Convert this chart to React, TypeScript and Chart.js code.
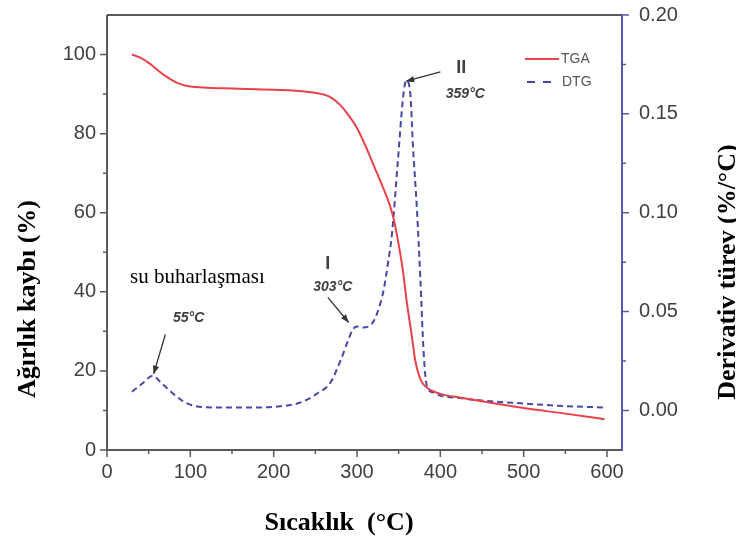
import React, { useEffect, useRef } from "react";
import { Chart, registerables } from "chart.js";

Chart.register(...registerables);

// ---- data ----
const tgaTemp = [30, 40, 50, 60, 70, 80, 90, 100, 120, 150, 200, 240, 260, 270, 280, 290, 300, 310, 320, 330, 340, 345, 350, 355, 360, 365, 370, 375, 380, 390, 400, 425, 450, 500, 550, 597];
const tgaMass = [100, 99.2, 97.9, 96.2, 94.6, 93.3, 92.4, 91.9, 91.6, 91.4, 91.1, 90.6, 89.9, 89.0, 87.2, 84.6, 81.4, 77, 72, 67, 61.5, 57.5, 52, 45.5, 37, 30, 22.5, 18.5, 16.5, 15, 14.2, 13.2, 12.3, 10.6, 9.2, 7.8];

const dtgTemp = [30, 42, 55, 65, 78, 90, 103, 130, 170, 205, 232, 252, 268, 280, 289, 295, 300, 307, 316, 324, 332, 337, 342, 349, 355, 359, 364, 367, 372, 376, 380, 384, 392, 400, 425, 450, 500, 550, 597];
const dtgDeriv = [0.0095, 0.0135, 0.0175, 0.014, 0.009, 0.005, 0.0025, 0.0015, 0.0015, 0.002, 0.004, 0.0085, 0.014, 0.025, 0.035, 0.041, 0.0425, 0.042, 0.043, 0.049, 0.061, 0.074, 0.0895, 0.126, 0.157, 0.167, 0.16, 0.135, 0.101, 0.067, 0.029, 0.012, 0.009, 0.0075, 0.0062, 0.005, 0.0035, 0.0022, 0.0015];

const xTickValues = [0, 100, 200, 300, 400, 500, 600];
const xMinorTicks = [50, 150, 250, 350, 450, 550];
const leftTickValues = [0, 20, 40, 60, 80, 100];
const leftMinorTicks = [10, 30, 50, 70, 90];
const rightTickValues = [0, 0.05, 0.1, 0.15, 0.2];
const rightMinorTicks = [0.025, 0.075, 0.125, 0.175];

const seriesNames = ["TGA", "DTG"];
const xTitle = "Sıcaklık  (°C)";
const leftTitle = "Ağırlık kaybı (%)";
const rightTitle = "Derivativ türev (%/°C)";
const noteWater = "su buharlaşması";
const peakLabels = ["55°C", "303°C", "359°C"];
const stageLabels = ["I", "II"];

// ---- styles ----
const RED = "rgb(232,66,74)";
const BLUE = "rgb(72,72,165)";
const AXIS_BLUE = "rgb(88,88,178)";
const FRAME = "#5a5a5a";
const TEXT = "#404040";
const SANS = "'Liberation Sans', Arial, sans-serif";
const SERIF = "'Liberation Serif', 'Times New Roman', serif";

function drawArrow(ctx: CanvasRenderingContext2D, x1: number, y1: number, x2: number, y2: number) {
  ctx.beginPath();
  ctx.moveTo(x1, y1);
  ctx.lineTo(x2, y2);
  ctx.stroke();
  const a = Math.atan2(y2 - y1, x2 - x1);
  const L = 8, W = 3.2;
  ctx.beginPath();
  ctx.moveTo(x2, y2);
  ctx.lineTo(x2 - L * Math.cos(a) + W * Math.sin(a), y2 - L * Math.sin(a) - W * Math.cos(a));
  ctx.lineTo(x2 - L * Math.cos(a) - W * Math.sin(a), y2 - L * Math.sin(a) + W * Math.cos(a));
  ctx.closePath();
  ctx.fill();
}

const decorPlugin = {
  id: "decor",
  afterDraw(chart: any) {
    const ctx: CanvasRenderingContext2D = chart.ctx;
    const { left, right, top, bottom } = chart.chartArea;
    const xs = chart.scales.x;
    const yl = chart.scales.y;
    const yr = chart.scales.y1;
    ctx.save();

    // frame
    ctx.lineWidth = 2;
    ctx.strokeStyle = FRAME;
    ctx.beginPath();
    ctx.moveTo(left, top);
    ctx.lineTo(right, top);
    ctx.moveTo(left, top);
    ctx.lineTo(left, bottom);
    ctx.lineTo(right, bottom);
    ctx.stroke();
    ctx.strokeStyle = AXIS_BLUE;
    ctx.beginPath();
    ctx.moveTo(right, top - 1);
    ctx.lineTo(right, bottom + 1);
    ctx.stroke();

    // tick marks
    ctx.lineWidth = 1.5;
    ctx.strokeStyle = FRAME;
    ctx.beginPath();
    xTickValues.forEach((v) => { const p = xs.getPixelForValue(v); ctx.moveTo(p, bottom); ctx.lineTo(p, bottom + 7); });
    xMinorTicks.forEach((v) => { const p = xs.getPixelForValue(v); ctx.moveTo(p, bottom); ctx.lineTo(p, bottom + 4); });
    leftTickValues.forEach((v) => { const p = yl.getPixelForValue(v); ctx.moveTo(left, p); ctx.lineTo(left - 7, p); });
    leftMinorTicks.forEach((v) => { const p = yl.getPixelForValue(v); ctx.moveTo(left, p); ctx.lineTo(left - 4, p); });
    ctx.stroke();
    ctx.strokeStyle = AXIS_BLUE;
    ctx.beginPath();
    rightTickValues.forEach((v) => { const p = yr.getPixelForValue(v); ctx.moveTo(right, p); ctx.lineTo(right + 7, p); });
    rightMinorTicks.forEach((v) => { const p = yr.getPixelForValue(v); ctx.moveTo(right, p); ctx.lineTo(right + 4, p); });
    ctx.stroke();

    // axis titles
    ctx.fillStyle = "#000";
    ctx.font = `bold 26px ${SERIF}`;
    ctx.textAlign = "center";
    ctx.textBaseline = "alphabetic";
    ctx.fillText(xTitle, 339, 530);
    ctx.save();
    ctx.translate(35, 299);
    ctx.rotate(-Math.PI / 2);
    ctx.fillText(leftTitle, 0, 0);
    ctx.restore();
    ctx.save();
    ctx.translate(735, 272);
    ctx.rotate(-Math.PI / 2);
    ctx.fillText(rightTitle, 0, 0);
    ctx.restore();

    // legend
    ctx.lineWidth = 2;
    ctx.strokeStyle = RED;
    ctx.beginPath();
    ctx.moveTo(right - 97, top + 44);
    ctx.lineTo(right - 63, top + 44);
    ctx.stroke();
    ctx.strokeStyle = BLUE;
    ctx.setLineDash([8, 8]);
    ctx.beginPath();
    ctx.moveTo(right - 95, top + 67);
    ctx.lineTo(right - 70, top + 67);
    ctx.stroke();
    ctx.setLineDash([]);
    ctx.fillStyle = "#555";
    ctx.font = `14px ${SANS}`;
    ctx.textAlign = "left";
    ctx.textBaseline = "middle";
    ctx.fillText(seriesNames[0], right - 61, top + 44);
    ctx.fillText(seriesNames[1], right - 60, top + 67);

    // annotations (positioned in data coordinates of x / left y)
    const px = (t: number) => xs.getPixelForValue(t);
    const py = (w: number) => yl.getPixelForValue(w);
    const pr = (d: number) => yr.getPixelForValue(d);

    ctx.fillStyle = "#000";
    ctx.font = `21px ${SERIF}`;
    ctx.textAlign = "left";
    ctx.textBaseline = "alphabetic";
    ctx.fillText(noteWater, px(27.6), py(42.2));

    ctx.fillStyle = TEXT;
    ctx.font = `italic bold 14px ${SANS}`;
    ctx.textAlign = "center";
    ctx.textBaseline = "middle";
    ctx.fillText(peakLabels[0], px(98), py(33.4));
    ctx.fillText(peakLabels[1], px(271), py(41.2));
    ctx.fillText(peakLabels[2], px(430), py(90));
    ctx.font = `bold 18px ${SANS}`;
    ctx.fillText(stageLabels[0], px(265), py(47));
    ctx.fillText(stageLabels[1], px(425), py(96.6));

    ctx.strokeStyle = "#333";
    ctx.fillStyle = "#333";
    ctx.lineWidth = 1.3;
    drawArrow(ctx, px(70), py(29.2), px(56), pr(0.0185));
    drawArrow(ctx, px(265), py(38.6), px(290), pr(0.0445));
    drawArrow(ctx, px(400), py(95.6), px(359), pr(0.1665));

    ctx.restore();
  },
};

const noPadV = (s: any) => { s.paddingTop = 0; s.paddingBottom = 0; };

export default function App() {
  const ref = useRef<HTMLCanvasElement | null>(null);
  useEffect(() => {
    if (!ref.current) return;
    const chart = new Chart(ref.current, {
      type: "line",
      data: {
        datasets: [
          {
            label: seriesNames[0],
            data: tgaTemp.map((t, i) => ({ x: t, y: tgaMass[i] })),
            yAxisID: "y",
            borderColor: RED,
            borderWidth: 2,
            pointRadius: 0,
            fill: false,
            cubicInterpolationMode: "monotone",
          },
          {
            label: seriesNames[1],
            data: dtgTemp.map((t, i) => ({ x: t, y: dtgDeriv[i] })),
            yAxisID: "y1",
            borderColor: BLUE,
            borderWidth: 2,
            borderDash: [6, 4],
            pointRadius: 0,
            fill: false,
            cubicInterpolationMode: "monotone",
          },
        ],
      },
      options: {
        responsive: false,
        animation: false,
        devicePixelRatio: 1,
        layout: { padding: { top: 15, left: 0, right: 0, bottom: 0 } },
        plugins: { legend: { display: false }, tooltip: { enabled: false } },
        scales: {
          x: {
            type: "linear",
            min: 0,
            max: 618,
            grid: { display: false, drawTicks: false },
            border: { display: false },
            afterBuildTicks: (s: any) => { s.ticks = xTickValues.map((v) => ({ value: v })); },
            afterFit: (s: any) => { s.height = 90; s.paddingLeft = 0; s.paddingRight = 0; },
            ticks: { color: TEXT, font: { family: SANS, size: 20 }, padding: 10, maxRotation: 0, autoSkip: false },
          },
          y: {
            type: "linear",
            position: "left",
            min: 0,
            max: 110,
            grid: { display: false, drawTicks: false },
            border: { display: false },
            afterBuildTicks: (s: any) => { s.ticks = leftTickValues.map((v) => ({ value: v })); },
            afterFit: (s: any) => { s.width = 107; noPadV(s); },
            ticks: { color: TEXT, font: { family: SANS, size: 20 }, padding: 11 },
          },
          y1: {
            type: "linear",
            position: "right",
            min: -0.02,
            max: 0.2,
            grid: { display: false, drawTicks: false },
            border: { display: false },
            afterBuildTicks: (s: any) => { s.ticks = rightTickValues.map((v) => ({ value: v })); },
            afterFit: (s: any) => { s.width = 114; noPadV(s); },
            ticks: { color: TEXT, font: { family: SANS, size: 20 }, padding: 17, callback: (v: any) => Number(v).toFixed(2) },
          },
        },
      },
      plugins: [decorPlugin],
    } as any);
    return () => chart.destroy();
  }, []);
  return (
    <div style={{ position: "absolute", left: 0, top: 0, width: 736, height: 540, background: "#fff" }}>
      <canvas ref={ref} width={736} height={540} style={{ display: "block" }} />
    </div>
  );
}
